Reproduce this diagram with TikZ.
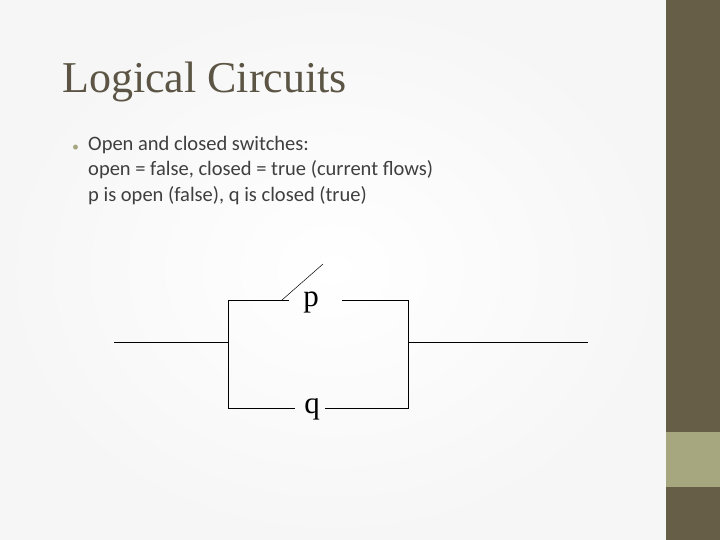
\documentclass[tikz,border=0pt]{standalone}
\usepackage{fontspec}
\setmainfont{Liberation Serif}
\newfontfamily\bodyfont{Carlito}
\definecolor{bar}{HTML}{665E47}
\definecolor{patch}{HTML}{A7A77F}
\definecolor{ttl}{HTML}{5C5545}
\definecolor{txt}{HTML}{3F3F3F}
\begin{document}
\begin{tikzpicture}[x=1pt,y=-1pt,wire/.style={line width=0.8pt,black},lbl/.style={font=\fontsize{31}{31}\selectfont,inner sep=0pt}]
\useasboundingbox (0,0) rectangle (720,540);
\shade[inner color=white,outer color=white!93!gray] (0,0) rectangle (666,540);
\fill[bar] (666,0) rectangle (720,540);
\fill[patch] (666,432) rectangle (720,487);
\node[anchor=base west,inner sep=0,text=ttl,font=\fontsize{44}{44}\selectfont] (title) at (62,93) {Logical Circuits};
\node[anchor=base west,inner sep=0,text=patch,font=\bodyfont\fontsize{14}{14}\selectfont] (bul) at (72,152) {•};
\node[anchor=north west,inner sep=0,text=txt,font=\bodyfont\fontsize{20.5}{25.5}\selectfont,align=left] (body) at (88,136) {Open and closed switches:\\open = false, closed = true (current flows)\\p is open (false), q is closed (true)};
\coordinate (l0) at (114,342); \coordinate (l1) at (228,342);
\coordinate (r0) at (408,342); \coordinate (r1) at (588,342);
\coordinate (tl) at (228,300); \coordinate (bl) at (228,408);
\coordinate (tr) at (408,300); \coordinate (br) at (408,408);
\coordinate (pa) at (289,300); \coordinate (pb) at (342,300);
\coordinate (sw0) at (282,300); \coordinate (sw1) at (323,264);
\coordinate (qa) at (295,408); \coordinate (qb) at (325,408);
\node[lbl,anchor=base] (p) at (311,306) {p};
\node[lbl,anchor=base] (q) at (312,413) {q};
\draw[wire] (l0) -- (l1);
\draw[wire] (r0) -- (r1);
\draw[wire] (pa) -- (tl) -- (bl) -- (qa);
\draw[wire] (pb) -- (tr) -- (br) -- (qb);
\draw[line width=0.5pt] (sw0) -- (sw1);
\end{tikzpicture}
\end{document}
